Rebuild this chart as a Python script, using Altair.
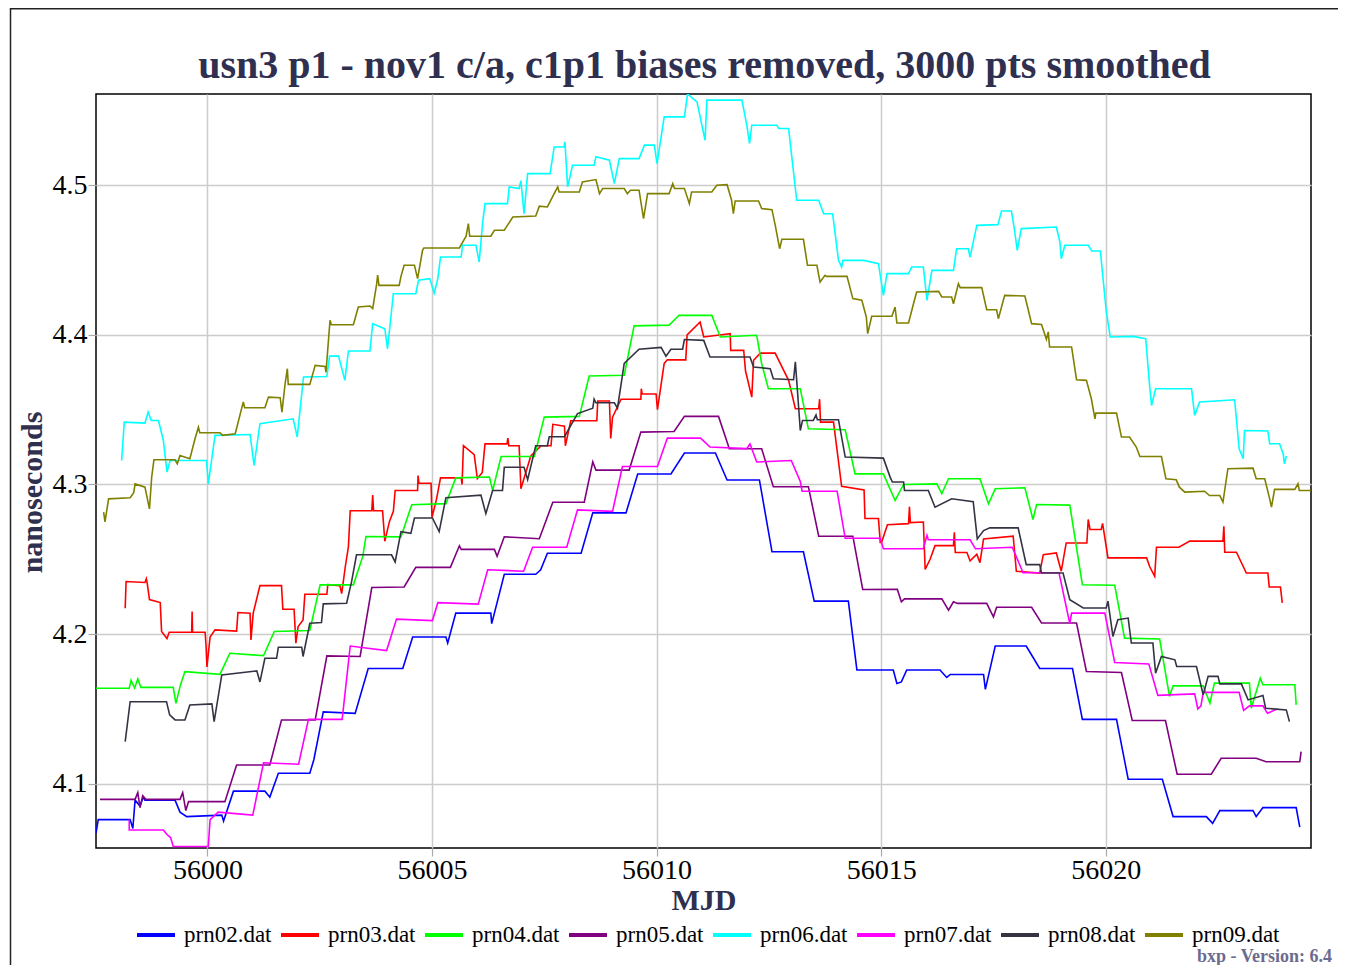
import altair as alt
import pandas as pd

# ---- data (MJD, nanoseconds) ----
prn02 = [(55997.52, 4.067), (55997.57, 4.076), (55998.28, 4.076), (55998.34, 4.070), (55998.39, 4.089),
         (55998.50, 4.085), (55998.57, 4.091), (55998.61, 4.089), (55999.28, 4.089), (55999.39, 4.081),
         (55999.54, 4.078), (56000.32, 4.079), (56000.36, 4.075), (56000.58, 4.095), (56001.28, 4.095),
         (56001.39, 4.091), (56001.58, 4.107), (56002.28, 4.107), (56002.37, 4.116), (56002.58, 4.148),
         (56003.29, 4.147), (56003.58, 4.177), (56004.35, 4.177), (56004.57, 4.198), (56005.31, 4.198),
         (56005.35, 4.194), (56005.53, 4.214), (56006.31, 4.214), (56006.33, 4.207), (56006.61, 4.240),
         (56007.31, 4.240), (56007.42, 4.243), (56007.57, 4.254), (56008.32, 4.254), (56008.58, 4.281),
         (56009.32, 4.281), (56009.58, 4.307), (56010.32, 4.307), (56010.62, 4.321), (56011.31, 4.321),
         (56011.57, 4.303), (56012.29, 4.303), (56012.57, 4.255), (56013.27, 4.255), (56013.51, 4.222),
         (56014.27, 4.222), (56014.46, 4.176), (56015.27, 4.176), (56015.35, 4.167), (56015.45, 4.168),
         (56015.57, 4.176), (56016.31, 4.176), (56016.46, 4.171), (56016.54, 4.173), (56017.28, 4.173),
         (56017.32, 4.163), (56017.54, 4.192), (56018.23, 4.192), (56018.35, 4.186), (56018.53, 4.177),
         (56019.26, 4.177), (56019.48, 4.143), (56020.24, 4.143), (56020.50, 4.103), (56021.26, 4.103),
         (56021.50, 4.078), (56022.24, 4.078), (56022.38, 4.0735), (56022.54, 4.082), (56023.28, 4.082),
         (56023.35, 4.078), (56023.50, 4.084), (56024.24, 4.084), (56024.32, 4.071)]

prn03 = [(55998.17, 4.2173), (55998.19, 4.2351), (55998.61, 4.2345), (55998.64, 4.237), (55998.66, 4.234),
         (55998.71, 4.2231), (55998.95, 4.2211), (55998.98, 4.2017), (55999.10, 4.197), (55999.15, 4.2012),
         (55999.65, 4.2012), (55999.66, 4.215), (55999.67, 4.2012), (55999.95, 4.2012), (55999.97, 4.192),
         (55999.99, 4.178), (56000.06, 4.198), (56000.17, 4.2028), (56000.65, 4.202), (56000.68, 4.2144),
         (56000.95, 4.2139), (56000.97, 4.196), (56001.02, 4.214), (56001.17, 4.2324), (56001.65, 4.2324),
         (56001.68, 4.2166), (56001.93, 4.2166), (56001.97, 4.1939), (56002.02, 4.205), (56002.13, 4.2095),
         (56002.17, 4.2266), (56002.66, 4.2266), (56002.68, 4.2330), (56002.95, 4.2324), (56002.99, 4.2270),
         (56003.07, 4.245), (56003.14, 4.2585), (56003.18, 4.2824), (56003.66, 4.2824), (56003.68, 4.293),
         (56003.70, 4.2824), (56003.90, 4.2824), (56003.95, 4.262), (56004.05, 4.275), (56004.14, 4.282),
         (56004.18, 4.296), (56004.68, 4.296), (56004.69, 4.306), (56004.71, 4.3008), (56004.98, 4.3008),
         (56005.00, 4.278), (56005.10, 4.290), (56005.19, 4.3044), (56005.65, 4.3044), (56005.67, 4.300),
         (56005.70, 4.3259), (56005.94, 4.320), (56006.01, 4.304), (56006.12, 4.308), (56006.18, 4.3271),
         (56006.67, 4.3271), (56006.69, 4.331), (56006.71, 4.3259), (56006.94, 4.3259), (56006.98, 4.2972),
         (56007.20, 4.319), (56007.43, 4.3259), (56007.65, 4.3259), (56007.69, 4.3402), (56007.95, 4.339),
         (56007.97, 4.3259), (56008.09, 4.3426), (56008.67, 4.3426), (56008.69, 4.3558), (56008.95, 4.3558),
         (56008.98, 4.3307), (56009.02, 4.345), (56009.21, 4.357), (56009.65, 4.357), (56009.66, 4.364),
         (56009.68, 4.3605), (56009.99, 4.3605), (56010.02, 4.350), (56010.17, 4.3809), (56010.24, 4.3833),
         (56010.65, 4.3833), (56010.68, 4.400), (56010.97, 4.4086), (56011.05, 4.3986), (56011.64, 4.4008),
         (56011.65, 4.3896), (56011.94, 4.3896), (56011.98, 4.376), (56012.12, 4.3584), (56012.16, 4.383),
         (56012.31, 4.3878), (56012.64, 4.3878), (56012.94, 4.3696), (56013.09, 4.3506), (56013.61, 4.3506),
         (56013.63, 4.357), (56013.65, 4.3417), (56013.94, 4.3417), (56014.12, 4.2987), (56014.62, 4.2964),
         (56014.64, 4.2772), (56014.94, 4.2772), (56014.98, 4.2613), (56015.01, 4.2613), (56015.14, 4.2731),
         (56015.61, 4.2738), (56015.63, 4.285), (56015.65, 4.2745), (56015.94, 4.2749), (56015.98, 4.2432),
         (56016.09, 4.250), (56016.20, 4.2591), (56016.61, 4.2591), (56016.63, 4.268), (56016.65, 4.2545),
         (56016.91, 4.2545), (56016.98, 4.2489), (56017.13, 4.2534), (56017.20, 4.2477), (56017.28, 4.2636),
         (56017.94, 4.2654), (56018.01, 4.242), (56018.53, 4.2408), (56018.61, 4.2531), (56018.90, 4.2542),
         (56019.01, 4.242), (56019.12, 4.2609), (56019.58, 4.2609), (56019.61, 4.2766), (56019.65, 4.2699),
         (56019.90, 4.2699), (56019.93, 4.274), (56020.05, 4.2509), (56020.91, 4.2509), (56020.98, 4.245),
         (56021.09, 4.2386), (56021.13, 4.258), (56021.63, 4.258), (56021.87, 4.2621), (56022.61, 4.2621),
         (56022.63, 4.272), (56022.65, 4.2547), (56022.91, 4.2547), (56023.13, 4.2408), (56023.61, 4.2408),
         (56023.64, 4.2315), (56023.89, 4.2315), (56023.93, 4.2208)]

prn04 = [(55997.52, 4.1638), (55998.26, 4.1638), (55998.30, 4.169), (55998.38, 4.164), (55998.45, 4.170),
         (55998.52, 4.1644), (55999.24, 4.1644), (55999.30, 4.1537), (55999.40, 4.166), (55999.50, 4.1749),
         (56000.28, 4.1731), (56000.50, 4.1872), (56001.25, 4.1856), (56001.49, 4.2017), (56002.28, 4.2024),
         (56002.51, 4.2329), (56003.25, 4.2329), (56003.46, 4.252), (56003.53, 4.2652), (56004.31, 4.265),
         (56004.55, 4.2865), (56005.31, 4.2872), (56005.53, 4.3044), (56006.28, 4.305), (56006.35, 4.296),
         (56006.54, 4.3187), (56007.28, 4.3187), (56007.50, 4.345), (56008.28, 4.3455), (56008.50, 4.3725),
         (56009.28, 4.373), (56009.50, 4.406), (56010.28, 4.4065), (56010.50, 4.4131), (56011.23, 4.413),
         (56011.42, 4.3986), (56012.23, 4.3997), (56012.34, 4.3807), (56012.49, 4.364), (56013.20, 4.364),
         (56013.38, 4.3372), (56014.20, 4.3366), (56014.42, 4.3071), (56015.05, 4.3071), (56015.31, 4.2893),
         (56015.50, 4.300), (56016.24, 4.3004), (56016.35, 4.2938), (56016.50, 4.3038), (56017.20, 4.3038),
         (56017.39, 4.2871), (56017.54, 4.2971), (56018.20, 4.2978), (56018.38, 4.2766), (56018.46, 4.2866),
         (56019.20, 4.2862), (56019.48, 4.233), (56020.20, 4.2326), (56020.42, 4.1973), (56021.20, 4.1967),
         (56021.42, 4.1583), (56021.50, 4.1654), (56022.17, 4.1654), (56022.32, 4.1538), (56022.42, 4.1672),
         (56023.20, 4.1672), (56023.24, 4.1504), (56023.44, 4.1705), (56023.50, 4.1661), (56024.21, 4.1661),
         (56024.24, 4.1527)]

prn05 = [(55997.61, 4.0895), (55998.39, 4.0895), (55998.45, 4.094), (55998.50, 4.084), (55998.56, 4.092),
         (55998.63, 4.0895), (55999.39, 4.0895), (55999.45, 4.094), (55999.52, 4.082), (55999.58, 4.088),
         (56000.39, 4.088), (56000.65, 4.1125), (56001.39, 4.1125), (56001.65, 4.1426), (56002.40, 4.1426),
         (56002.66, 4.1854), (56003.40, 4.185), (56003.66, 4.2311), (56004.38, 4.2315), (56004.64, 4.2446),
         (56005.41, 4.2446), (56005.61, 4.259), (56005.65, 4.2566), (56006.39, 4.2566), (56006.45, 4.252),
         (56006.61, 4.265), (56007.39, 4.2637), (56007.69, 4.2881), (56008.39, 4.2881), (56008.58, 4.3151),
         (56008.65, 4.3096), (56009.39, 4.3096), (56009.65, 4.335), (56010.39, 4.3354), (56010.62, 4.3455),
         (56011.38, 4.3455), (56011.62, 4.3239), (56012.34, 4.3239), (56012.60, 4.2985), (56013.38, 4.2985),
         (56013.61, 4.2654), (56014.37, 4.2654), (56014.59, 4.2298), (56015.36, 4.230), (56015.45, 4.2216),
         (56015.52, 4.2235), (56016.35, 4.2235), (56016.50, 4.216), (56016.61, 4.2216), (56016.70, 4.2205),
         (56017.35, 4.2205), (56017.50, 4.2115), (56017.57, 4.2179), (56018.35, 4.2179), (56018.57, 4.2074),
         (56019.35, 4.2074), (56019.57, 4.175), (56020.35, 4.1743), (56020.59, 4.1422), (56021.33, 4.1422),
         (56021.59, 4.1063), (56022.35, 4.1063), (56022.57, 4.117), (56023.35, 4.117), (56023.57, 4.1147),
         (56024.32, 4.1147), (56024.35, 4.1214)]

prn06 = [(55998.09, 4.316), (55998.15, 4.3417), (55998.61, 4.341), (55998.68, 4.3484), (55998.75, 4.3428),
         (55998.91, 4.3428), (55999.02, 4.3294), (55999.10, 4.3083), (55999.17, 4.316), (55999.98, 4.316),
         (56000.02, 4.3004), (56000.17, 4.3328), (56000.95, 4.3334), (56001.04, 4.3127), (56001.17, 4.3406),
         (56001.91, 4.3439), (56002.00, 4.3317), (56002.14, 4.3718), (56002.66, 4.3722), (56002.72, 4.3858),
         (56002.92, 4.3858), (56003.06, 4.3696), (56003.14, 4.3892), (56003.62, 4.3892), (56003.68, 4.4075),
         (56003.95, 4.4041), (56004.01, 4.3907), (56004.14, 4.4275), (56004.64, 4.4275), (56004.70, 4.4365),
         (56004.95, 4.4376), (56005.05, 4.428), (56005.13, 4.4376), (56005.19, 4.452), (56005.65, 4.452),
         (56005.68, 4.4599), (56005.98, 4.4599), (56006.05, 4.4487), (56006.13, 4.4755), (56006.18, 4.4877),
         (56006.68, 4.4877), (56006.72, 4.4989), (56006.94, 4.4978), (56006.98, 4.503), (56007.05, 4.481),
         (56007.13, 4.5078), (56007.63, 4.5078), (56007.72, 4.5256), (56007.94, 4.5256), (56007.96, 4.529),
         (56008.02, 4.4989), (56008.13, 4.5134), (56008.61, 4.5134), (56008.65, 4.519), (56008.95, 4.5167),
         (56009.06, 4.5011), (56009.17, 4.5178), (56009.61, 4.5178), (56009.73, 4.5268), (56009.95, 4.5268),
         (56010.01, 4.5145), (56010.17, 4.5457), (56010.62, 4.5457), (56010.69, 4.5610), (56010.90, 4.5557),
         (56011.08, 4.5301), (56011.12, 4.5569), (56011.90, 4.5569), (56012.01, 4.5401), (56012.07, 4.5279),
         (56012.12, 4.5401), (56012.68, 4.5401), (56012.72, 4.5379), (56012.94, 4.5379), (56013.12, 4.490),
         (56013.61, 4.490), (56013.72, 4.481), (56013.92, 4.481), (56014.05, 4.4498), (56014.12, 4.4454),
         (56014.15, 4.4498), (56014.61, 4.4498), (56014.94, 4.4476), (56015.05, 4.4264), (56015.13, 4.4409),
         (56015.61, 4.4409), (56015.68, 4.4454), (56015.94, 4.4454), (56016.02, 4.4231), (56016.13, 4.4431),
         (56016.61, 4.4431), (56016.68, 4.4576), (56016.94, 4.4576), (56016.98, 4.452), (56017.13, 4.4732),
         (56017.60, 4.4737), (56017.68, 4.4828), (56017.90, 4.4828), (56017.96, 4.4721), (56018.03, 4.4565),
         (56018.12, 4.471), (56018.90, 4.4721), (56018.98, 4.4621), (56019.01, 4.4509), (56019.09, 4.4599),
         (56019.61, 4.4599), (56019.69, 4.4561), (56019.88, 4.4561), (56020.01, 4.4164), (56020.10, 4.3986),
         (56020.61, 4.399), (56020.89, 4.3974), (56020.98, 4.3651), (56021.02, 4.3528), (56021.11, 4.364),
         (56021.91, 4.364), (56021.98, 4.3462), (56022.09, 4.3551), (56022.87, 4.3566), (56022.97, 4.3239),
         (56023.06, 4.3172), (56023.09, 4.3361), (56023.61, 4.3357), (56023.65, 4.3272), (56023.87, 4.3272),
         (56023.95, 4.3205), (56023.98, 4.3138), (56024.02, 4.319)]

prn07 = [(55998.26, 4.076), (55998.26, 4.069), (55999.02, 4.069), (55999.10, 4.066), (55999.18, 4.064),
         (55999.24, 4.058), (56000.02, 4.058), (56000.06, 4.076), (56000.24, 4.081), (56001.01, 4.079),
         (56001.25, 4.114), (56002.03, 4.113), (56002.25, 4.143), (56003.00, 4.143), (56003.18, 4.192),
         (56003.99, 4.189), (56004.21, 4.210), (56005.01, 4.209), (56005.13, 4.221), (56006.03, 4.220),
         (56006.24, 4.243), (56007.04, 4.242), (56007.24, 4.258), (56008.00, 4.258), (56008.24, 4.283),
         (56009.02, 4.282), (56009.24, 4.312), (56010.02, 4.312), (56010.24, 4.331), (56010.98, 4.331),
         (56011.19, 4.325), (56012.01, 4.324), (56012.08, 4.327), (56012.23, 4.315), (56013.00, 4.316),
         (56013.20, 4.302), (56013.24, 4.2955), (56014.02, 4.2955), (56014.20, 4.264), (56014.98, 4.264),
         (56015.05, 4.257), (56015.94, 4.257), (56016.02, 4.266), (56016.05, 4.263), (56016.98, 4.263),
         (56017.10, 4.257), (56017.92, 4.258), (56018.16, 4.241), (56018.96, 4.241), (56019.20, 4.207),
         (56019.24, 4.214), (56019.98, 4.214), (56020.20, 4.181), (56020.96, 4.180), (56021.16, 4.159),
         (56021.98, 4.160), (56022.05, 4.150), (56022.12, 4.152), (56022.17, 4.161), (56022.97, 4.161),
         (56023.07, 4.149), (56023.20, 4.152), (56023.50, 4.152), (56023.60, 4.147), (56023.83, 4.150)]

prn08 = [(55998.17, 4.1281), (55998.28, 4.1548), (55999.09, 4.1548), (55999.16, 4.146), (55999.28, 4.1426),
         (55999.50, 4.1426), (55999.61, 4.1526), (56000.10, 4.1533), (56000.15, 4.1415), (56000.32, 4.1727),
         (56001.10, 4.1754), (56001.17, 4.168), (56001.28, 4.1838), (56001.54, 4.1838), (56001.58, 4.1912),
         (56002.10, 4.1912), (56002.13, 4.185), (56002.28, 4.2072), (56002.54, 4.2077), (56002.58, 4.2202),
         (56003.10, 4.2206), (56003.21, 4.235), (56003.32, 4.253), (56004.10, 4.253), (56004.18, 4.2482),
         (56004.31, 4.2685), (56004.53, 4.2673), (56004.61, 4.2776), (56005.01, 4.2776), (56005.16, 4.2685),
         (56005.31, 4.2912), (56006.09, 4.2929), (56006.20, 4.2805), (56006.35, 4.296), (56006.57, 4.296),
         (56006.61, 4.3115), (56007.05, 4.3115), (56007.13, 4.3032), (56007.31, 4.3259), (56007.57, 4.3259),
         (56007.61, 4.3319), (56007.95, 4.3319), (56008.24, 4.3474), (56008.58, 4.351), (56008.61, 4.357),
         (56008.65, 4.3546), (56009.06, 4.3546), (56009.13, 4.351), (56009.28, 4.3809), (56009.61, 4.3904),
         (56010.10, 4.3916), (56010.21, 4.3857), (56010.32, 4.3904), (56010.58, 4.3904), (56010.62, 4.3969),
         (56011.05, 4.3963), (56011.19, 4.3852), (56011.60, 4.3852), (56012.08, 4.3852), (56012.16, 4.3785),
         (56012.53, 4.3774), (56012.60, 4.3707), (56013.05, 4.370), (56013.09, 4.382), (56013.20, 4.3361),
         (56013.25, 4.3428), (56013.49, 4.3428), (56013.55, 4.3465), (56013.58, 4.3433), (56014.05, 4.3433),
         (56014.20, 4.3183), (56015.05, 4.3176), (56015.20, 4.3049), (56015.25, 4.3016), (56015.50, 4.3016),
         (56015.52, 4.296), (56016.05, 4.296), (56016.20, 4.2848), (56016.57, 4.2904), (56017.05, 4.2885),
         (56017.14, 4.2636), (56017.28, 4.2692), (56017.42, 4.271), (56018.05, 4.271), (56018.23, 4.2464),
         (56018.53, 4.2464), (56018.57, 4.2408), (56019.05, 4.2408), (56019.20, 4.223), (56019.50, 4.2174),
         (56020.01, 4.2174), (56020.05, 4.222), (56020.16, 4.1984), (56020.27, 4.2096), (56020.50, 4.2107),
         (56020.57, 4.194), (56021.05, 4.194), (56021.11, 4.1739), (56021.24, 4.185), (56021.54, 4.1828),
         (56021.58, 4.1783), (56022.02, 4.1783), (56022.17, 4.1594), (56022.28, 4.1717), (56022.50, 4.1717),
         (56022.54, 4.1667), (56023.02, 4.1667), (56023.17, 4.156), (56023.50, 4.159), (56023.56, 4.1504),
         (56024.02, 4.1493), (56024.09, 4.1415)]

prn09 = [(55997.69, 4.2815), (55997.72, 4.275), (55997.80, 4.2904), (55998.28, 4.2911), (55998.36, 4.2945),
         (55998.39, 4.3004), (55998.61, 4.2982), (55998.71, 4.2837), (55998.76, 4.305), (55998.81, 4.3165),
         (55999.28, 4.3165), (55999.33, 4.3138), (55999.39, 4.3194), (55999.61, 4.3172), (55999.72, 4.330),
         (55999.80, 4.3383), (55999.83, 4.3346), (56000.28, 4.3346), (56000.34, 4.3328), (56000.62, 4.3339),
         (56000.73, 4.347), (56000.80, 4.3551), (56000.83, 4.3513), (56001.28, 4.3513), (56001.36, 4.3584),
         (56001.62, 4.358), (56001.66, 4.3484), (56001.73, 4.3673), (56001.78, 4.3774), (56001.80, 4.3669),
         (56002.28, 4.3669), (56002.40, 4.3796), (56002.62, 4.3789), (56002.64, 4.375), (56002.73, 4.4097),
         (56002.76, 4.4068), (56003.25, 4.4068), (56003.36, 4.4186), (56003.62, 4.4193), (56003.68, 4.4175),
         (56003.77, 4.4342), (56003.79, 4.440), (56003.82, 4.4331), (56004.27, 4.4331), (56004.31, 4.4391),
         (56004.38, 4.4465), (56004.61, 4.4465), (56004.68, 4.4376), (56004.79, 4.4565), (56004.82, 4.4581),
         (56005.61, 4.4581), (56005.76, 4.466), (56005.81, 4.4744), (56005.84, 4.4659), (56006.31, 4.4659),
         (56006.39, 4.4699), (56006.61, 4.4699), (56006.80, 4.4788), (56007.31, 4.4795), (56007.39, 4.486),
         (56007.57, 4.4855), (56007.72, 4.4944), (56007.80, 4.4989), (56007.83, 4.4955), (56008.28, 4.4955),
         (56008.35, 4.5022), (56008.65, 4.5038), (56008.73, 4.4944), (56008.80, 4.4978), (56009.28, 4.4978),
         (56009.35, 4.4944), (56009.42, 4.4967), (56009.61, 4.4967), (56009.71, 4.4777), (56009.80, 4.4944),
         (56010.28, 4.4944), (56010.36, 4.5011), (56010.40, 4.4978), (56010.62, 4.4978), (56010.73, 4.4877),
         (56010.78, 4.4955), (56011.23, 4.4955), (56011.34, 4.500), (56011.57, 4.5004), (56011.67, 4.49),
         (56011.71, 4.481), (56011.75, 4.4895), (56012.27, 4.4895), (56012.34, 4.4844), (56012.57, 4.4837),
         (56012.65, 4.472), (56012.74, 4.4576), (56012.79, 4.4639), (56013.27, 4.4639), (56013.36, 4.4465),
         (56013.57, 4.4465), (56013.64, 4.4353), (56013.75, 4.4398), (56013.78, 4.4391), (56014.24, 4.4391),
         (56014.37, 4.4242), (56014.57, 4.4231), (56014.67, 4.4119), (56014.70, 4.4008), (56014.79, 4.4124),
         (56015.24, 4.4124), (56015.31, 4.4186), (56015.35, 4.4079), (56015.61, 4.4079), (56015.72, 4.4208),
         (56015.79, 4.4287), (56016.28, 4.4291), (56016.35, 4.4253), (56016.57, 4.4253), (56016.61, 4.4208),
         (56016.72, 4.4342), (56016.76, 4.4316), (56017.24, 4.4316), (56017.35, 4.4168), (56017.57, 4.4168),
         (56017.61, 4.4108), (56017.75, 4.4264), (56018.20, 4.426), (56018.35, 4.4075), (56018.57, 4.407),
         (56018.68, 4.3970), (56018.72, 4.402), (56018.75, 4.3919), (56019.24, 4.3919), (56019.35, 4.370),
         (56019.57, 4.3696), (56019.68, 4.3573), (56019.76, 4.3439), (56019.78, 4.3477), (56020.24, 4.3477),
         (56020.35, 4.3317), (56020.53, 4.3317), (56020.68, 4.325), (56020.76, 4.3187), (56021.24, 4.3187),
         (56021.34, 4.3038), (56021.57, 4.3031), (56021.64, 4.2982), (56021.76, 4.2949), (56022.20, 4.2955),
         (56022.31, 4.2926), (56022.54, 4.2926), (56022.61, 4.2882), (56022.72, 4.3105), (56023.28, 4.3109),
         (56023.35, 4.3038), (56023.54, 4.3038), (56023.65, 4.2904), (56023.69, 4.2848), (56023.76, 4.2967),
         (56024.21, 4.2967), (56024.28, 4.3004), (56024.31, 4.296), (56024.57, 4.296)]

series_names = ["prn02.dat", "prn03.dat", "prn04.dat", "prn05.dat",
                "prn06.dat", "prn07.dat", "prn08.dat", "prn09.dat"]
series_colors = ["#0000ff", "#ff0000", "#00ff00", "#800080",
                 "#00ffff", "#ff00ff", "#333344", "#808000"]
x_ticks = [56000, 56005, 56010, 56015, 56020]
y_ticks = [4.1, 4.2, 4.3, 4.4, 4.5]
x_domain = [55997.52, 56024.57]
y_domain = [4.057, 4.561]
title_text = "usn3 p1 - nov1 c/a, c1p1 biases removed, 3000 pts smoothed"
version_text = "bxp - Version: 6.4"

rows = []
for name, pts in zip(series_names, [prn02, prn03, prn04, prn05, prn06, prn07, prn08, prn09]):
    for i, (m, v) in enumerate(pts):
        rows.append({"series": name, "mjd": m, "ns": v, "idx": i})
df = pd.DataFrame(rows)

SERIF = "Liberation Serif"
NAVY = "#2f2f4f"
W, H = 1215, 754

lines = alt.Chart(df).mark_line(strokeWidth=1.6, clip=True).encode(
    x=alt.X("mjd:Q",
            scale=alt.Scale(domain=x_domain, nice=False, zero=False),
            axis=alt.Axis(values=x_ticks, format="d", title="MJD",
                          labelPadding=0, titleY=52, titleX=W / 2,
                          titleBaseline="middle", titleAlign="center")),
    y=alt.Y("ns:Q",
            scale=alt.Scale(domain=y_domain, nice=False, zero=False),
            axis=alt.Axis(values=y_ticks, format=".1f", title="nanoseconds",
                          labelPadding=1, titleX=-64, titleY=398,
                          titleBaseline="middle", titleAlign="center", titleAngle=-90)),
    color=alt.Color("series:N",
                    scale=alt.Scale(domain=series_names, range=series_colors),
                    legend=alt.Legend(orient="none", legendX=39, legendY=820,
                                      direction="horizontal", title=None,
                                      symbolType="stroke", symbolSize=1444,
                                      symbolStrokeWidth=4, labelFont=SERIF,
                                      labelFontSize=23, labelColor="#000000",
                                      labelOffset=7, columnPadding=1)),
    order=alt.Order("idx:Q"),
)

one = pd.DataFrame({"k": [0]})
frame_top = alt.Chart(one).mark_rule(color="#222222", strokeWidth=1.5).encode(
    x=alt.value(-86), x2=alt.value(1300), y=alt.value(-85.3))
frame_left = alt.Chart(one).mark_rule(color="#222222", strokeWidth=1.5).encode(
    x=alt.value(-85.5), y=alt.value(-86), y2=alt.value(900))
title = alt.Chart(one).mark_text(
    text=title_text, font=SERIF, fontSize=40, fontWeight="bold",
    color=NAVY, align="center", baseline="alphabetic").encode(
    x=alt.value(W / 2 + 1), y=alt.value(-16))
version = alt.Chart(one).mark_text(
    text=version_text, font=SERIF, fontSize=18, fontWeight="bold",
    color="#6b6b8f", align="left", baseline="alphabetic").encode(
    x=alt.value(1101), y=alt.value(868))

chart = alt.layer(lines, frame_top, frame_left, title, version).properties(
    width=W, height=H,
    autosize=alt.AutoSizeParams(type="none"),
    padding={"left": 88, "top": 86, "right": 27, "bottom": 117},
    background="#ffffff",
).configure_view(
    stroke="#000000", strokeWidth=1.5
).configure_axis(
    grid=True, gridColor="#cccccc", gridWidth=1.5, domain=False,
    tickColor="#aaaaaa", tickSize=8, tickWidth=1.2,
    labelFont=SERIF, labelFontSize=28, labelColor="#000000",
    titleFont=SERIF, titleFontSize=30, titleFontWeight="bold", titleColor=NAVY,
)

chart.save("out.html", embed_options={"renderer": "svg", "actions": False})
